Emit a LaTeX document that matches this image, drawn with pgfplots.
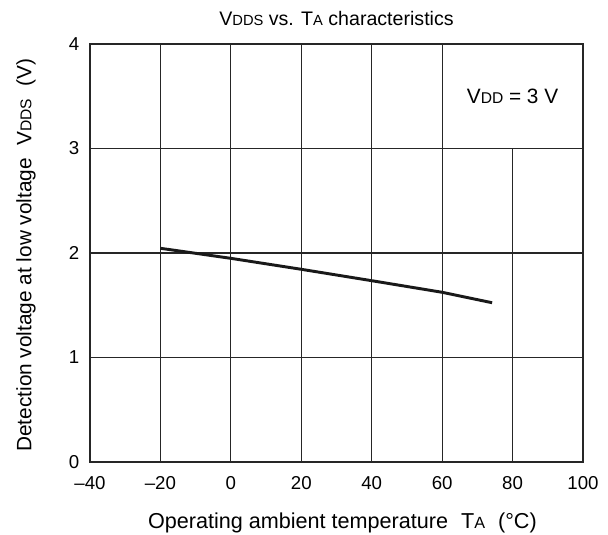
\documentclass[border=0pt]{standalone}
\usepackage{pgfplots}
\pgfplotsset{compat=1.18}
\usepackage{fontspec}
\setmainfont{Liberation Sans}
% small capitals used as subscripts in the original (V_DDS, T_A)
\newcommand{\sub}[1]{{\fontsize{0.75\dimexpr\fontdimen6\font\relax}{10}\selectfont #1}}
\newcommand{\lbl}{\fontsize{15.6}{18}\selectfont}
\begin{document}
\begin{tikzpicture}[gridline/.style={black!85, line width=0.9pt}]
\begin{axis}[
  at={(0,0)}, anchor=south west,
  scale only axis, width=369.75pt, height=313.5pt,
  xmin=-40, xmax=100, ymin=0, ymax=4,
  xtick={-40,-20,...,100},
  xticklabels={--40,--20,0,20,40,60,80,100},
  ytick={0,1,2,3,4}, yticklabels={0,1,2,3,4},
  major tick length=0pt,
  ymajorgrids,
  grid style={gridline},
  axis line style={black!85, line width=1pt},
  tick label style={font=\fontsize{14}{16}\selectfont},
  xticklabel style={yshift=-7pt},
  yticklabel style={xshift=-4.5pt},
  title={V\sub{DDS} vs. T\sub{A} characteristics},
  title style={at={(axis description cs:0.5,1.043)}, anchor=center, font=\fontsize{14.7}{17}\selectfont},
  xlabel={Operating ambient temperature\hspace{0.6em}T\sub{A}\hspace{0.6em}(\textdegree C)},
  x label style={at={(axis description cs:0.512,-0.146)}, anchor=center, font=\fontsize{16.2}{19}\selectfont},
  ylabel={Detection voltage at low voltage\hspace{0.6em}V\sub{DDS}\hspace{0.6em}(V)},
  y label style={at={(axis description cs:-0.130,0.495)}, anchor=center, rotate=0, font=\lbl},
]
% vertical grid lines; the one at 80 stops below the V_DD note
\pgfplotsinvokeforeach{-20,0,20,40,60}{
  \draw[gridline] (axis cs:#1,0) -- (axis cs:#1,4);
}
\draw[gridline] (axis cs:80,0) -- (axis cs:80,3);

\addplot[black!90, line width=2.2pt] coordinates {
  (-20,2.045) (0,1.949) (20,1.844) (40,1.735) (60,1.624) (74.2,1.524)
};

\node[font=\lbl] at (axis cs:80,3.5) {V\sub{DD} = 3 V};
\end{axis}
\pgfresetboundingbox
\path[use as bounding box] (-67.5pt,-54.75pt) rectangle (388.5pt,346.5pt);
\end{tikzpicture}
\end{document}
